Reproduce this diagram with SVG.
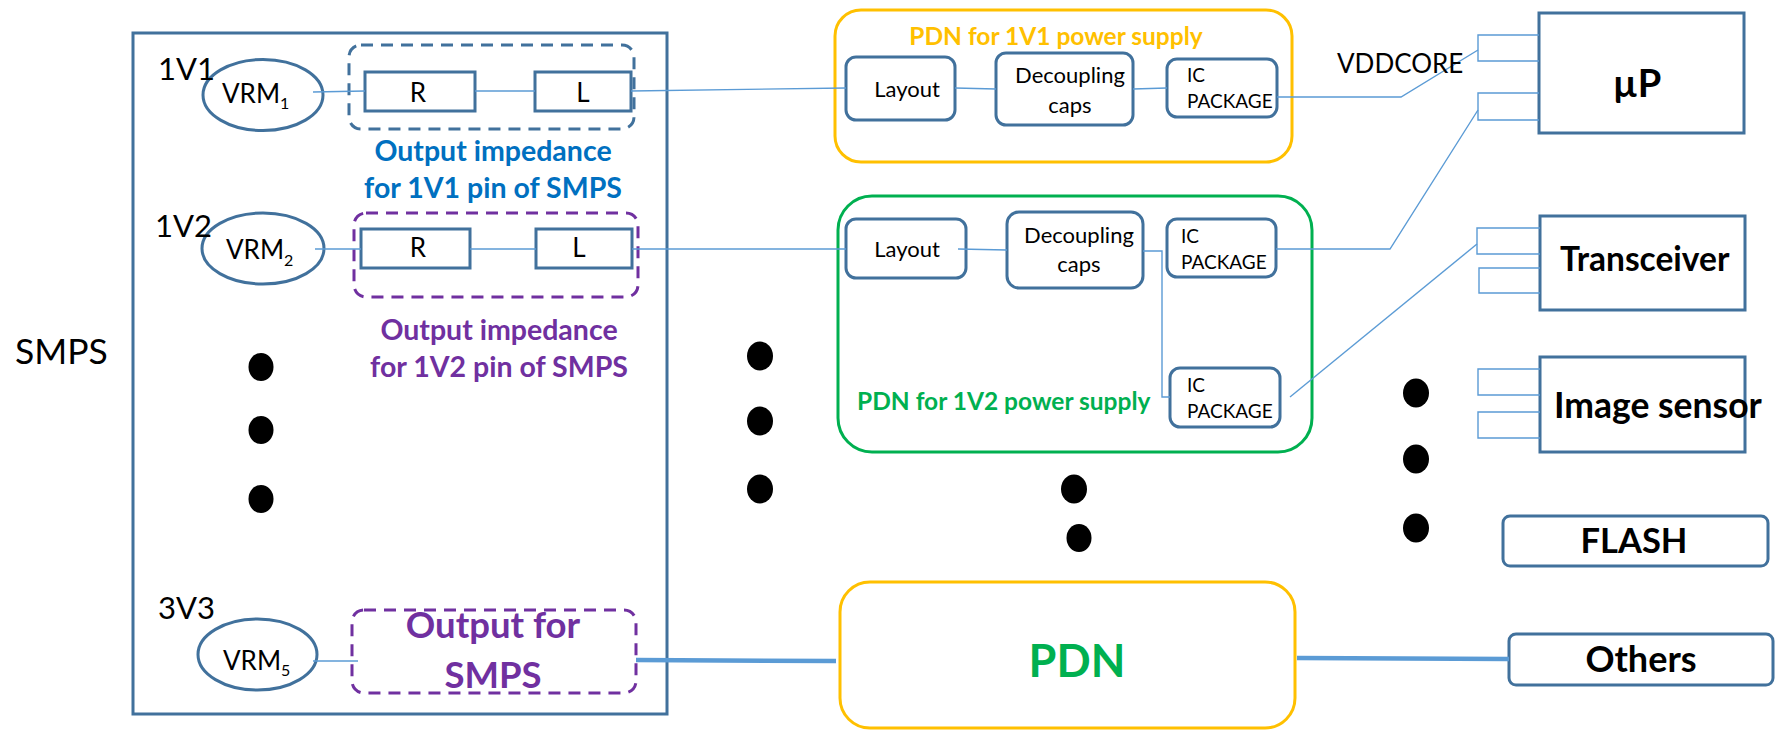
<svg xmlns="http://www.w3.org/2000/svg" width="1781" height="731" viewBox="0 0 1781 731">
  <style>
    text { font-family: Lato, "Open Sans", "Liberation Sans", sans-serif; fill: #000; }
    .box { fill: #fff; stroke: #41719C; stroke-width: 3; }
    .ell { fill: #fff; stroke: #41719C; stroke-width: 3; }
    .dashb { fill: none; stroke: #41719C; stroke-width: 3; stroke-dasharray: 12 8; }
    .dashp { fill: none; stroke: #7030A0; stroke-width: 3; stroke-dasharray: 12 8; }
    .pdnY { fill: #fff; stroke: #FFC000; stroke-width: 3; }
    .pdnG { fill: #fff; stroke: #00B050; stroke-width: 3; }
    .wire { fill: none; stroke: #5B9BD5; stroke-width: 1.4; }
    .bus { fill: none; stroke: #5B9BD5; stroke-width: 4.5; }
    .dot { fill: #000; }
    .lbl { font-size: 26px; }
    .sub { font-size: 16px; }
    .rail { font-size: 31px; }
    .inner { font-size: 22px; }
    .pkg { font-size: 19px; }
    .bold { font-weight: bold; }
    .zb { font-weight: bold; font-size: 28.5px; fill: #0070C0; }
    .zp { font-weight: bold; font-size: 28.5px; fill: #7030A0; }
    .load { font-weight: bold; }
  </style>

  <!-- SMPS block -->
  <g id="smps">
    <rect x="133" y="33" width="534" height="681" class="box"/>
    <text x="15" y="364" style="font-size:35.5px">SMPS</text>
  </g>

  <!-- 1V1 regulator and its output impedance -->
  <g id="vrm1">
    <ellipse cx="263" cy="95" rx="60" ry="35.5" class="ell"/>
    <text x="222" y="103" class="lbl">VRM<tspan class="sub" dy="6">1</tspan></text>
    <text x="158" y="80" class="rail">1V1</text>
  </g>
  <g id="zout1">
    <rect x="349" y="45" width="285" height="84" rx="12" class="dashb"/>
    <text x="493" y="161" text-anchor="middle" class="zb">Output impedance</text>
    <text x="493" y="198" text-anchor="middle" class="zb">for 1V1 pin of SMPS</text>
  </g>
  <g id="r1">
    <rect x="365" y="72" width="110" height="39" class="box"/>
    <text x="418" y="102" text-anchor="middle" class="lbl">R</text>
  </g>
  <g id="l1">
    <rect x="535" y="72" width="96" height="39" class="box"/>
    <text x="583" y="102" text-anchor="middle" class="lbl">L</text>
  </g>

  <!-- 1V2 regulator and its output impedance -->
  <g id="vrm2">
    <ellipse cx="263" cy="248.5" rx="61" ry="35.5" class="ell"/>
    <text x="226" y="259" class="lbl">VRM<tspan class="sub" dy="7">2</tspan></text>
    <text x="155" y="237" class="rail">1V2</text>
  </g>
  <g id="zout2">
    <rect x="354" y="213" width="284" height="84" rx="12" class="dashp"/>
    <text x="499" y="340" text-anchor="middle" class="zp">Output impedance</text>
    <text x="499" y="377" text-anchor="middle" class="zp">for 1V2 pin of SMPS</text>
  </g>
  <g id="r2">
    <rect x="361" y="229" width="109" height="39" class="box"/>
    <text x="418" y="257" text-anchor="middle" class="lbl">R</text>
  </g>
  <g id="l2">
    <rect x="536" y="229" width="96" height="39" class="box"/>
    <text x="579" y="257" text-anchor="middle" class="lbl">L</text>
  </g>

  <!-- 3V3 regulator -->
  <g id="vrm5">
    <ellipse cx="257.5" cy="654.5" rx="59.5" ry="35.5" class="ell"/>
    <text x="223" y="670" class="lbl">VRM<tspan class="sub" dy="6">5</tspan></text>
    <text x="158" y="619" class="rail">3V3</text>
  </g>
  <g id="out3v3">
    <rect x="352" y="610" width="284" height="83" rx="12" class="dashp"/>
    <text x="493" y="638" text-anchor="middle" class="bold" style="font-size:36.5px;fill:#7030A0">Output for</text>
    <text x="493" y="688" text-anchor="middle" class="bold" style="font-size:36.5px;fill:#7030A0">SMPS</text>
  </g>

  <!-- PDN for 1V1 -->
  <g id="pdn1v1">
    <rect x="835" y="10" width="457" height="152" rx="26" class="pdnY"/>
    <text x="1056" y="45" text-anchor="middle" class="bold" style="font-size:24.5px;fill:#FFC000">PDN for 1V1 power supply</text>
  </g>
  <g id="layout1">
    <rect x="846" y="57" width="109" height="63" rx="10" class="box"/>
    <text x="907" y="97" text-anchor="middle" class="inner">Layout</text>
  </g>
  <g id="decap1">
    <rect x="996" y="53" width="137" height="72" rx="10" class="box"/>
    <text x="1070" y="83" text-anchor="middle" class="inner">Decoupling</text>
    <text x="1070" y="113" text-anchor="middle" class="inner">caps</text>
  </g>
  <g id="icpkg1">
    <rect x="1167" y="59" width="110" height="58" rx="10" class="box"/>
    <text x="1187" y="82" class="pkg">IC</text>
    <text x="1187" y="108" class="pkg">PACKAGE</text>
  </g>

  <!-- PDN for 1V2 -->
  <g id="pdn1v2">
    <rect x="838" y="196" width="474" height="256" rx="34" class="pdnG"/>
    <text x="857" y="410" class="bold" style="font-size:24.5px;fill:#00B050">PDN for 1V2 power supply</text>
  </g>
  <g id="layout2">
    <rect x="846" y="219" width="120" height="59" rx="10" class="box"/>
    <text x="907" y="257" text-anchor="middle" class="inner">Layout</text>
  </g>
  <g id="decap2">
    <rect x="1007" y="212" width="136" height="76" rx="12" class="box"/>
    <text x="1079" y="243" text-anchor="middle" class="inner">Decoupling</text>
    <text x="1079" y="272" text-anchor="middle" class="inner">caps</text>
  </g>
  <g id="icpkg2a">
    <rect x="1167" y="219" width="109" height="58" rx="10" class="box"/>
    <text x="1181" y="243" class="pkg">IC</text>
    <text x="1181" y="269" class="pkg">PACKAGE</text>
  </g>
  <g id="icpkg2b">
    <rect x="1170" y="368" width="110" height="59" rx="10" class="box"/>
    <text x="1187" y="392" class="pkg">IC</text>
    <text x="1187" y="418" class="pkg">PACKAGE</text>
  </g>

  <!-- Shared PDN -->
  <g id="pdn">
    <rect x="840" y="582" width="455" height="146" rx="30" class="pdnY"/>
    <text x="1077" y="677" text-anchor="middle" class="bold" style="font-size:45px;fill:#00B050">PDN</text>
  </g>

  <!-- Loads -->
  <g id="up">
    <rect x="1539" y="13" width="205" height="120" class="box"/>
    <text x="1637" y="97" text-anchor="middle" class="load" style="font-size:38px">µP</text>
  </g>
  <g id="transceiver">
    <rect x="1540" y="216" width="205" height="94" class="box"/>
    <text x="1560" y="271" class="load" style="font-size:33.5px">Transceiver</text>
  </g>
  <g id="imagesensor">
    <rect x="1540" y="357" width="205" height="95" class="box"/>
    <text x="1554" y="418" class="load" style="font-size:35.5px">Image sensor</text>
  </g>
  <g id="flash">
    <rect x="1503" y="516" width="265" height="50" rx="7" class="box"/>
    <text x="1634" y="553" text-anchor="middle" class="load" style="font-size:34.5px">FLASH</text>
  </g>
  <g id="others">
    <rect x="1509" y="634" width="264" height="51" rx="7" class="box"/>
    <text x="1641" y="672" text-anchor="middle" class="load" style="font-size:36px">Others</text>
  </g>

  <!-- Ellipsis dots -->
  <g id="dots">
    <ellipse cx="261" cy="367" rx="12.5" ry="14" class="dot"/>
    <ellipse cx="261" cy="430" rx="12.5" ry="14" class="dot"/>
    <ellipse cx="261" cy="499" rx="12.5" ry="14" class="dot"/>
    <ellipse cx="760" cy="356" rx="13" ry="14.5" class="dot"/>
    <ellipse cx="760" cy="421" rx="13" ry="14.5" class="dot"/>
    <ellipse cx="760" cy="489" rx="13" ry="14.5" class="dot"/>
    <ellipse cx="1074" cy="489" rx="13" ry="14.5" class="dot"/>
    <ellipse cx="1079" cy="538" rx="12.5" ry="14" class="dot"/>
    <ellipse cx="1416" cy="393" rx="13" ry="14.5" class="dot"/>
    <ellipse cx="1416" cy="459" rx="13" ry="14.5" class="dot"/>
    <ellipse cx="1416" cy="528" rx="13" ry="14.5" class="dot"/>
  </g>

  <!-- Connectors -->
  <g id="connectors">
    <!-- 1V1 chain -->
    <path d="M313 92 L365 91" class="wire"/>
    <path d="M475 91 L535 91" class="wire"/>
    <path d="M631 91 L846 88" class="wire"/>
    <path d="M955 88 L996 89" class="wire"/>
    <path d="M1133 89 L1167 88" class="wire"/>
    <path d="M1277 97 L1401 97 L1478 50" class="wire"/>
    <text x="1337" y="73" style="font-size:26px">VDDCORE</text>
    <!-- 1V2 chain -->
    <path d="M315 249 L361 249" class="wire"/>
    <path d="M470 249 L536 249" class="wire"/>
    <path d="M632 249 L846 249" class="wire"/>
    <path d="M958 249 L1007 250" class="wire"/>
    <path d="M1143 251 L1162 251 L1162 397 L1170 397" class="wire"/>
    <path d="M1276 249 L1390 249 L1478 110" class="wire"/>
    <path d="M1290 397 L1477 244" class="wire"/>
    <!-- 3V3 chain -->
    <path d="M313 661 L358 661" class="wire"/>
    <path d="M636 660 L836 661" class="bus"/>
    <path d="M1297 658 L1509 659" class="bus"/>
    <!-- load pins -->
    <path d="M1539 35 L1478 35 L1478 61 L1539 61" class="wire"/>
    <path d="M1539 93 L1478 93 L1478 120 L1539 120" class="wire"/>
    <path d="M1540 228 L1477 228 L1477 254 L1540 254" class="wire"/>
    <path d="M1540 268 L1479 268 L1479 293 L1540 293" class="wire"/>
    <path d="M1540 369 L1478 369 L1478 395 L1540 395" class="wire"/>
    <path d="M1540 412 L1478 412 L1478 438 L1540 438" class="wire"/>
  </g>
</svg>
